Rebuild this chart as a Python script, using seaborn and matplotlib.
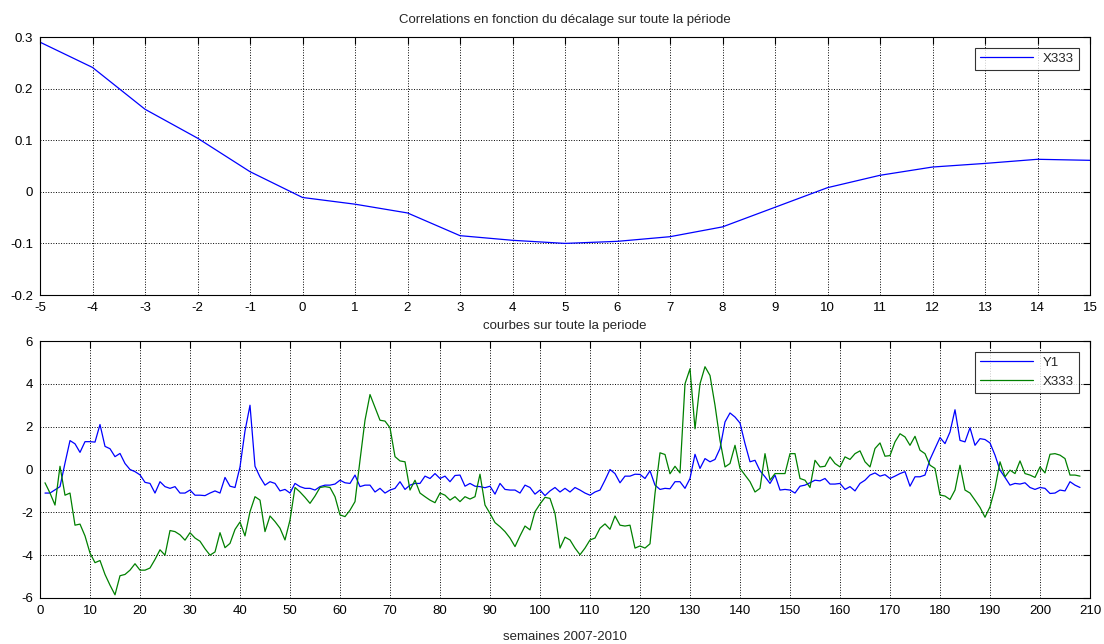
import numpy as np
import pandas as pd
import matplotlib
matplotlib.use("Agg")
import matplotlib.pyplot as plt
import seaborn as sns
from matplotlib.ticker import FuncFormatter

# --- donnees : correlation selon le decalage ---
lags = list(range(-5, 16))
corr_x333 = [0.29, 0.241, 0.16, 0.104, 0.039, -0.011, -0.024, -0.041, -0.085, -0.094, -0.1,
             -0.096, -0.087, -0.068, -0.03, 0.008, 0.032, 0.048, 0.055, 0.063, 0.061]

# --- donnees : courbes hebdomadaires ---
weeks = list(range(1, 209))
y1 = [-1.1, -1.1, -0.95, -0.8, 0.3, 1.35, 1.2, 0.8, 1.3, 1.3,
      1.28, 2.1, 1.08, 0.97, 0.6, 0.75, 0.28, 0.0, -0.1, -0.25,
      -0.6, -0.65, -1.1, -0.57, -0.8, -0.88, -0.8, -1.1, -1.1, -0.96,
      -1.2, -1.2, -1.22, -1.1, -1.0, -1.1, -0.37, -0.78, -0.84, 0.12,
      1.8, 3.0, 0.15, -0.35, -0.73, -0.57, -0.65, -1.0, -0.93, -1.1,
      -0.65, -0.8, -0.88, -0.88, -0.96, -0.8, -0.73, -0.73, -0.68, -0.5,
      -0.62, -0.65, -0.26, -0.8, -0.73, -0.73, -1.05, -0.88, -1.1, -0.96,
      -0.88, -0.57, -0.93, -0.73, -0.65, -0.65, -0.31, -0.42, -0.19, -0.42,
      -0.31, -0.57, -0.28, -0.26, -0.78, -0.65, -0.78, -0.8, -0.85, -0.78,
      -1.15, -0.65, -0.93, -0.96, -0.96, -1.1, -0.73, -0.84, -1.15, -0.96,
      -1.22, -1.0, -0.84, -1.05, -0.88, -1.05, -0.84, -0.96, -1.1, -1.2,
      -1.05, -0.96, -0.5, 0.0, -0.19, -0.62, -0.31, -0.31, -0.22, -0.23,
      -0.42, -0.06, -0.73, -0.93, -0.88, -0.9, -0.57, -0.57, -0.88, -0.42,
      0.71, 0.05, 0.51, 0.36, 0.47, 0.98, 2.22, 2.64, 2.45, 2.17,
      1.21, 0.36, 0.43, -0.06, -0.34, -0.65, -0.26, -0.96, -0.93, -0.96,
      -1.1, -0.78, -0.73, -0.62, -0.5, -0.53, -0.42, -0.68, -0.68, -0.65,
      -0.93, -0.8, -1.0, -0.65, -0.5, -0.26, -0.16, -0.31, -0.24, -0.42,
      -0.31, -0.19, -0.1, -0.78, -0.34, -0.34, -0.26, 0.47, 0.98, 1.49,
      1.21, 1.75, 2.79, 1.36, 1.29, 1.95, 1.13, 1.44, 1.4, 1.24,
      0.67, -0.03, -0.37, -0.73, -0.65, -0.68, -0.62, -0.84, -0.93, -0.84,
      -0.88, -1.12, -1.1, -0.96, -1.0, -0.57, -0.73, -0.84]
x333 = [-0.62, -1.1, -1.66, 0.15, -1.2, -1.1, -2.6, -2.55, -3.1, -3.9,
        -4.35, -4.25, -4.9, -5.4, -5.85, -4.96, -4.9, -4.7, -4.4, -4.7,
        -4.7, -4.6, -4.2, -3.75, -4.0, -2.85, -2.9, -3.05, -3.3, -2.95,
        -3.2, -3.35, -3.7, -4.0, -3.85, -2.95, -3.65, -3.45, -2.8, -2.45,
        -3.1, -1.97, -1.27, -1.43, -2.9, -2.17, -2.43, -2.74, -3.29, -2.36,
        -0.84, -1.05, -1.3, -1.58, -1.24, -0.84, -0.8, -0.84, -1.27, -2.12,
        -2.2, -1.9, -1.5, 0.43, 2.3, 3.5, 2.9, 2.3, 2.26, 1.95,
        0.6, 0.4, 0.36, -0.96, -0.5, -1.1, -1.27, -1.43, -1.55, -1.1,
        -1.2, -1.43, -1.27, -1.5, -1.27, -1.38, -1.27, -0.22, -1.66, -2.05,
        -2.48, -2.67, -2.9, -3.2, -3.6, -3.1, -2.64, -2.82, -1.97, -1.61,
        -1.3, -1.35, -2.05, -3.67, -3.16, -3.29, -3.67, -3.98, -3.67, -3.29,
        -3.2, -2.74, -2.54, -2.79, -2.17, -2.6, -2.64, -2.6, -3.67, -3.57,
        -3.67, -3.47, -1.12, 0.78, 0.7, -0.2, 0.15, -0.16, 4.0, 4.7,
        1.9, 4.0, 4.8, 4.39, 3.0, 1.36, 0.12, 0.28, 1.13, 0.05,
        -0.26, -0.57, -1.05, -0.88, 0.74, -0.5, -0.19, -0.19, -0.19, 0.74,
        0.74, -0.42, -0.5, -0.84, 0.43, 0.12, 0.15, 0.59, 0.28, 0.12,
        0.59, 0.47, 0.74, 0.87, 0.36, 0.12, 0.98, 1.24, 0.62, 0.65,
        1.29, 1.67, 1.52, 1.13, 1.55, 0.9, 0.74, 0.2, 0.05, -1.19,
        -1.24, -1.4, -0.96, 0.2, -0.96, -1.1, -1.43, -1.77, -2.23, -1.74,
        -0.88, 0.36, -0.34, -0.03, -0.19, 0.4, -0.19, -0.26, -0.37, 0.12,
        -0.16, 0.71, 0.74, 0.67, 0.51, -0.26, -0.26, -0.31]

sns.set_style("white")
plt.rcParams["font.family"] = ["Liberation Sans", "DejaVu Sans"]
plt.rcParams["axes.unicode_minus"] = False
plt.rcParams["font.size"] = 9

fig = plt.figure(figsize=(11.04, 6.44), dpi=100)
ax1 = fig.add_axes([40 / 1104, 1 - 295 / 644, 1050 / 1104, 258 / 644])
ax2 = fig.add_axes([40 / 1104, 1 - 598 / 644, 1050 / 1104, 257 / 644])

fmt = FuncFormatter(lambda v, p: "%g" % round(v, 6))


def matlab_look(ax):
    ax.grid(True, color="black", linestyle=":", linewidth=0.7)
    ax.tick_params(direction="in", top=True, right=True, length=5, width=0.8,
                   labelsize=9.5, pad=5, colors="black")
    for s in ax.spines.values():
        s.set_color("black")
        s.set_linewidth(0.8)
    ax.yaxis.set_major_formatter(fmt)
    ax.xaxis.set_major_formatter(fmt)


# graphe du haut
df_corr = pd.DataFrame({"lag": lags, "corr": corr_x333})
sns.lineplot(data=df_corr, x="lag", y="corr", ax=ax1, color="#0000ff", lw=0.9, label="X333")
ax1.set_xlim(-5, 15)
ax1.set_ylim(-0.2, 0.3)
ax1.set_xticks(range(-5, 16))
ax1.set_yticks(np.arange(-0.2, 0.31, 0.1))
ax1.set_xlabel("")
ax1.set_ylabel("")
ax1.set_title("Correlations en fonction du décalage sur toute la période", fontsize=9.5, pad=10)
matlab_look(ax1)
leg1 = ax1.legend(loc="upper right", fontsize=9.5, frameon=True, fancybox=False,
                  edgecolor="black", borderaxespad=0.8, handlelength=4)
leg1.get_frame().set_linewidth(0.8)

# graphe du bas
df_w = pd.DataFrame({"semaine": weeks + weeks, "valeur": y1 + x333,
                     "serie": ["Y1"] * len(weeks) + ["X333"] * len(weeks)})
sns.lineplot(data=df_w, x="semaine", y="valeur", hue="serie", ax=ax2,
             palette={"Y1": "#0000ff", "X333": "#008000"}, lw=0.9)
ax2.set_xlim(0, 210)
ax2.set_ylim(-6, 6)
ax2.set_xticks(range(0, 211, 10))
ax2.set_yticks(range(-6, 7, 2))
ax2.set_ylabel("")
matlab_look(ax2)
ax2.set_xlabel("semaines 2007-2010", fontsize=9.5, labelpad=10)
ax2.set_title("courbes sur toute la periode", fontsize=9.5, pad=9)
leg2 = ax2.legend(loc="upper right", fontsize=9.5, frameon=True, fancybox=False,
                  edgecolor="black", borderaxespad=0.8, handlelength=4)
leg2.get_frame().set_linewidth(0.8)

fig.savefig("out.png", dpi=100)
